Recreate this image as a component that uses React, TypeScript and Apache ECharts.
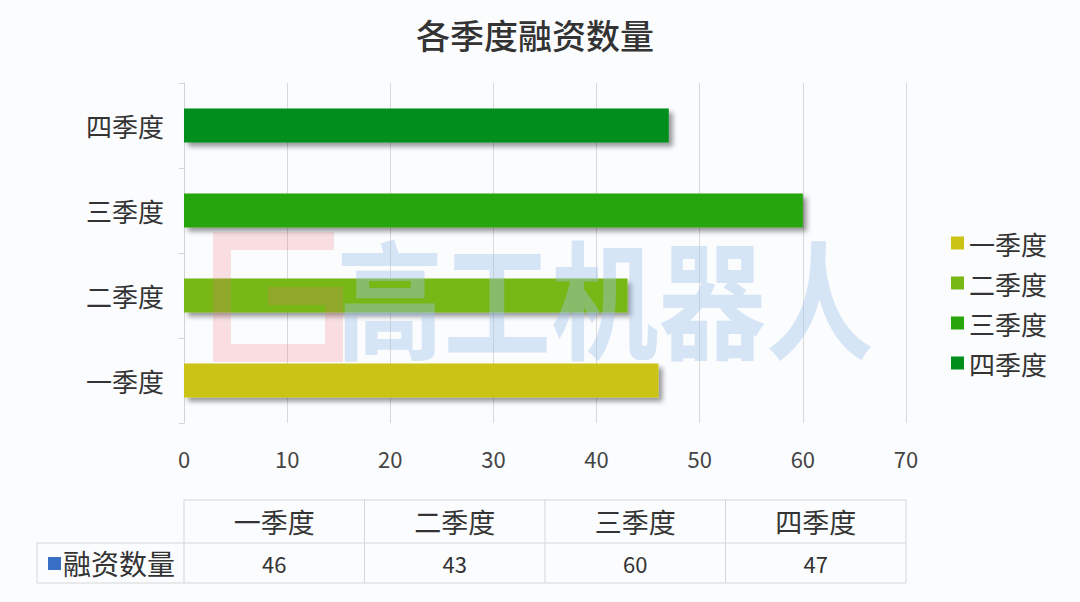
import React, { useEffect, useRef } from "react";
import * as echarts from "echarts";

const categories = ["一季度", "二季度", "三季度", "四季度"];
const values = [46, 43, 60, 47];
const colors = ["#cbc415", "#78b816", "#28a50a", "#008f1a"];
const xTicks = { min: 0, max: 70, interval: 10 };
const tableRowLabel = "融资数量";
const titleText = "各季度融资数量";
const watermarkText = "高工机器人";

const FONT = "'Noto Sans CJK SC', 'Noto Sans', sans-serif";

export default function App() {
  const ref = useRef<HTMLDivElement>(null);
  useEffect(() => {
    document.body.style.margin = "0";
    if (!ref.current) return;
    const chart = echarts.init(ref.current, undefined, { renderer: "svg" });

    const gridLeft = 184;
    const gridRight = 906;
    const gridTop = 83;
    const gridHeight = 340;
    const colW = (gridRight - gridLeft) / categories.length;
    const tTop = 500;
    const tMid = 543;
    const tBot = 583;
    const tLeft = 37;
    const lineStyle = { stroke: "#d6d6d6", lineWidth: 1 };

    const tableEls: any[] = [];
    tableEls.push({ type: "line", shape: { x1: gridLeft, y1: tTop, x2: gridRight, y2: tTop }, style: lineStyle });
    tableEls.push({ type: "line", shape: { x1: tLeft, y1: tMid, x2: gridRight, y2: tMid }, style: lineStyle });
    tableEls.push({ type: "line", shape: { x1: tLeft, y1: tBot, x2: gridRight, y2: tBot }, style: lineStyle });
    tableEls.push({ type: "line", shape: { x1: tLeft, y1: tMid, x2: tLeft, y2: tBot }, style: lineStyle });
    for (let i = 0; i <= categories.length; i++) {
      const x = gridLeft + i * colW;
      tableEls.push({ type: "line", shape: { x1: x, y1: tTop, x2: x, y2: tBot }, style: lineStyle });
    }
    categories.forEach((c, i) => {
      const cx = gridLeft + (i + 0.5) * colW;
      tableEls.push({
        type: "text",
        x: cx,
        y: (tTop + tMid) / 2,
        style: { text: c, fontSize: 27, fontFamily: FONT, fill: "#333", align: "center", verticalAlign: "middle" },
      });
      tableEls.push({
        type: "text",
        x: cx,
        y: (tMid + tBot) / 2,
        style: { text: String(values[i]), fontSize: 22, fontFamily: FONT, fill: "#333", align: "center", verticalAlign: "middle" },
      });
    });
    tableEls.push({ type: "rect", shape: { x: 48, y: 557, width: 13, height: 13 }, style: { fill: "#3a6fc8" } });
    tableEls.push({
      type: "text",
      x: 63,
      y: (tMid + tBot) / 2,
      style: { text: tableRowLabel, fontSize: 28, fontFamily: FONT, fill: "#333", align: "left", verticalAlign: "middle" },
    });

    const wmRed = "rgba(235,120,120,0.22)";
    const watermark: any[] = [
      {
        type: "polyline",
        z: 100,
        shape: {
          points: [
            [334, 241],
            [222, 241],
            [222, 353],
            [334, 353],
            [334, 296],
            [268, 296],
          ],
        },
        style: { fill: "none", stroke: wmRed, lineWidth: 18, lineJoin: "miter" },
      },
      {
        type: "text",
        z: 100,
        x: 336,
        y: 230,
        scaleX: 0.84,
        style: {
          text: watermarkText,
          fontSize: 128,
          fontWeight: "bold",
          fontFamily: FONT,
          fill: "rgba(160,195,235,0.4)",
          align: "left",
          verticalAlign: "top",
        },
      },
    ];

    const series = categories.map((c, i) => ({
      name: c,
      type: "bar",
      stack: "total",
      barWidth: 34,
      data: values.map((v, j) => (j === i ? v : "-")),
      itemStyle: {
        color: colors[i],
        shadowColor: "rgba(0,0,0,0.4)",
        shadowBlur: 5,
        shadowOffsetX: 4,
        shadowOffsetY: 4,
      },
    }));

    chart.setOption({
      animation: false,
      backgroundColor: "#fbfcfe",
      textStyle: { fontFamily: FONT },
      title: {
        text: titleText,
        top: 12,
        left: 530,
        textAlign: "center",
        textStyle: { fontSize: 34, fontWeight: 500, color: "#333", fontFamily: FONT },
      },
      legend: {
        orient: "vertical",
        left: 946,
        top: 225,
        icon: "rect",
        itemWidth: 13,
        itemHeight: 13,
        itemGap: 14,
        data: categories,
        textStyle: { fontSize: 26, color: "#333", fontFamily: FONT },
      },
      grid: { left: gridLeft, width: gridRight - gridLeft, top: gridTop, height: gridHeight, containLabel: false },
      xAxis: {
        type: "value",
        min: xTicks.min,
        max: xTicks.max,
        interval: xTicks.interval,
        axisLine: { show: false },
        axisTick: { show: false },
        splitLine: { lineStyle: { color: "#d9d9d9" } },
        axisLabel: { fontSize: 22, color: "#444", margin: 24, fontFamily: FONT },
      },
      yAxis: {
        type: "category",
        data: categories,
        axisLine: { show: true, lineStyle: { color: "#d3d3d3" } },
        axisTick: { show: true, length: 5, lineStyle: { color: "#d3d3d3" } },
        axisLabel: { fontSize: 26, color: "#333", margin: 20, fontFamily: FONT },
      },
      series,
      graphic: [...tableEls, ...watermark],
    });
    return () => chart.dispose();
  }, []);
  return <div ref={ref} style={{ width: 1080, height: 602 }} />;
}
